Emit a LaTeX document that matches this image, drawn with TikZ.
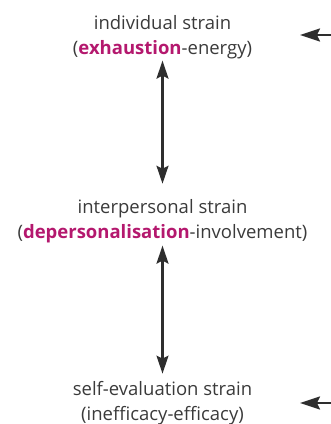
\documentclass[tikz,border=0pt]{standalone}
\usepackage{fontspec}
\setmainfont{Open Sans}
\usetikzlibrary{arrows.meta}
\definecolor{ink}{HTML}{3A3A3A}
\definecolor{arrowink}{HTML}{2E2E2E}
\definecolor{accent}{HTML}{B4186E}
\tikzset{
  strainlabel/.style={align=center, inner sep=0pt, anchor=base, text=ink,
    font=\fontsize{18.5}{25}\selectfont},
  linkhead/.tip={Stealth[length=18pt,width=12pt,inset=3pt]},
  pointhead/.tip={Stealth[length=20pt,width=13pt,inset=3pt]},
  link/.style={draw=arrowink, line width=2.2pt, arrows={linkhead-linkhead}},
  pointer/.style={draw=arrowink, line width=2.2pt, arrows={-pointhead}}
}
\newcommand{\hl}[1]{\textcolor{accent}{\textbf{#1}}}
\begin{document}
\begin{tikzpicture}[x=1pt,y=1pt]
  \useasboundingbox (0,0) rectangle (331,-424);
  % the three strain dimensions; the anchor is the baseline of the second line
  \node[strainlabel] (indiv) at (162.5,-54) {individual strain\\(\hl{exhaustion}-energy)};
  \node[strainlabel] (inter) at (162.5,-238) {interpersonal strain\\(\hl{depersonalisation}-involvement)};
  \node[strainlabel] (self) at (162.5,-420) {self-evaluation strain\\(inefficacy-efficacy)};
  % incoming arrows from the right edge
  \coordinate (inA) at (331,-35);
  \coordinate (tipA) at (300,-35);
  \coordinate (inB) at (331,-403);
  \coordinate (tipB) at (300,-403);
  % two-way links between neighbouring dimensions
  \draw[link] ([yshift=-2pt]indiv.south) -- ([yshift=15pt]inter.north);
  \draw[link] ([yshift=-3pt]inter.south) -- ([yshift=7pt]self.north);
  \draw[pointer] (inA) -- (tipA);
  \draw[pointer] (inB) -- (tipB);
\end{tikzpicture}
\end{document}
